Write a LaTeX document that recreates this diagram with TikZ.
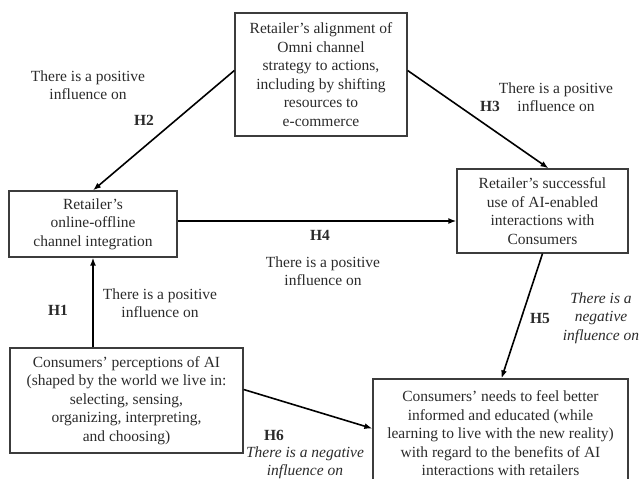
\documentclass[tikz,border=0pt]{standalone}
\usepackage{fontspec}
\setmainfont{Liberation Serif}
\usepackage{tikz}
\usetikzlibrary{arrows.meta,calc}
\definecolor{inkgray}{HTML}{2B2B2B}
\definecolor{framegray}{HTML}{3C3C3C}
\newcommand{\diagfont}{\fontsize{15.5}{18.5}\selectfont}

\begin{document}
\begin{tikzpicture}[x=1pt, y=-1pt,
    box/.style={draw=framegray, line width=1.3pt, align=center, inner sep=1pt, text=inkgray, font=\diagfont},
    arr/.style={-{Latex[length=8pt,width=6pt]}, line width=1.6pt, black},
    lbl/.style={align=center, text=inkgray, font=\diagfont},
    neglbl/.style={align=center, text=inkgray, font=\diagfont\itshape},
    hyp/.style={text=inkgray, font=\diagfont\bfseries}]
  \clip (0,0) rectangle (643,479);

  % Constructs
  \node[box, minimum width=172pt, minimum height=123pt] (align) at (321,74.5)
    {Retailer's alignment of\\Omni channel\\strategy to actions,\\including by shifting\\resources to\\e-commerce};
  \node[box, minimum width=168pt, minimum height=66pt] (chan) at (93,224)
    {Retailer's\\online-offline\\channel integration};
  \node[box, minimum width=171pt, minimum height=84pt] (use) at (542.5,211)
    {Retailer's successful\\use of AI-enabled\\interactions with\\Consumers};
  \node[box, minimum width=233pt, minimum height=105pt] (perc) at (126.5,400.5)
    {Consumers' perceptions of AI\\(shaped by the world we live in:\\selecting, sensing,\\organizing, interpreting,\\and choosing)};
  \node[box, minimum width=255pt, minimum height=109pt] (needs) at (500.5,433.5)
    {Consumers' needs to feel better\\informed and educated (while\\learning to live with the new reality)\\with regard to the benefits of AI\\interactions with retailers};

  % Hypotheses
  \draw[arr] ([yshift=4pt]align.west) -- (chan.north);
  \draw[arr] ([yshift=4pt]align.east) -- ([xshift=6pt]use.north);
  \draw[arr] ([yshift=3pt]chan.east) -- ([yshift=3pt]chan.east -| use.west);
  \draw[arr] (chan.south |- perc.north) -- (chan.south);
  \draw[arr] (use.south) -- ([xshift=1pt]needs.north);
  \draw[arr] ([yshift=11pt]perc.east) -- ([yshift=5pt]needs.west);

  % Labels
  \node[lbl] (l2) at (88,85) {There is a positive\\influence on};
  \node[hyp] (h2) at (144,120) {H2};
  \node[lbl] (l3) at (556,97) {There is a positive\\influence on};
  \node[hyp] (h3) at (490,106) {H3};
  \node[hyp] (h4) at (320,235) {H4};
  \node[lbl] (l4) at (323,271) {There is a positive\\influence on};
  \node[hyp] (h1) at (58,310) {H1};
  \node[lbl] (l1) at (160,303) {There is a positive\\influence on};
  \node[hyp] (h5) at (540,318) {H5};
  \node[neglbl] (l5) at (601,318) {There is a\\negative\\influence on};
  \node[hyp] (h6) at (274,435) {H6};
  \node[neglbl] (l6) at (305,463) {There is a negative\\influence on};
\end{tikzpicture}
\end{document}
